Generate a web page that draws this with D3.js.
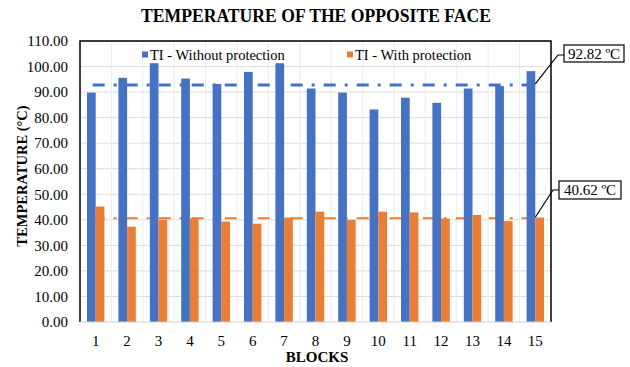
<!DOCTYPE html>
<html><head><meta charset="utf-8">
<script src="https://cdn.jsdelivr.net/npm/d3@7/dist/d3.min.js"></script>
<style>body{margin:0;background:#fff}svg{display:block;font-family:"Liberation Serif","Times New Roman",serif}</style>
</head><body><svg id="c" width="630" height="367"></svg>
<script>
const categories = ["1","2","3","4","5","6","7","8","9","10","11","12","13","14","15"];
const seriesNames = ["TI - Without protection","TI - With protection"];
const withoutProtection = [89.8,95.6,101.3,95.3,93.2,97.9,101.3,91.4,89.8,83.2,87.8,85.8,91.4,92.4,98.2];
const withProtection = [45.2,37.3,40.0,40.6,39.3,38.5,40.9,43.2,40.0,43.2,42.9,40.5,41.9,39.5,40.9];
const averages = [92.82, 40.62];
const averageLabels = ["92.82 ºC","40.62 ºC"];
const yTicks = [0,10,20,30,40,50,60,70,80,90,100,110];
const colors = ["#4472C4","#ED7D31"];

const svg = d3.select("#c");
const L=80, R=551, T=41, B=322;
const x = d3.scaleBand().domain(categories).range([L,R]).paddingInner(0.446).paddingOuter(0.223);
const xs = d3.scaleBand().domain([0,1]).range([0,x.bandwidth()]);
const y = d3.scaleLinear().domain([0,110]).range([B,T]);
const step = x.step();

// gridlines
svg.append("g").selectAll("line").data(yTicks.slice(1)).join("line")
  .attr("x1",L).attr("x2",R).attr("y1",d=>y(d)).attr("y2",d=>y(d))
  .attr("stroke","#dcdcdc").attr("stroke-width",1);
svg.append("g").selectAll("line").data(categories.slice(1)).join("line")
  .attr("x1",d=>x(d)-x.paddingInner()*step/2).attr("x2",d=>x(d)-x.paddingInner()*step/2)
  .attr("y1",T).attr("y2",B).attr("stroke","#ececec").attr("stroke-width",1);

// average lines (behind bars)
const cx = d=>x(d)+x.bandwidth()/2;
const firstC = categories[0], lastC = categories[categories.length-1];
svg.append("line").attr("x1",cx(firstC)-3).attr("x2",cx(lastC)).attr("y1",y(averages[0])).attr("y2",y(averages[0]))
  .attr("stroke",colors[0]).attr("stroke-width",3).attr("stroke-dasharray","12,9,3,9");
svg.append("line").attr("x1",cx(firstC)-3).attr("x2",cx(lastC)).attr("y1",y(averages[1])).attr("y2",y(averages[1]))
  .attr("stroke",colors[1]).attr("stroke-width",2.2).attr("stroke-dasharray","12,9,3,9");

// bars
[withoutProtection, withProtection].forEach((vals,si)=>{
  svg.append("g").selectAll("rect").data(vals).join("rect")
    .attr("x",(d,i)=>x(categories[i])+xs(si)).attr("width",xs.bandwidth())
    .attr("y",d=>y(d)).attr("height",d=>B-y(d)).attr("fill",colors[si]);
});

// frame
svg.append("path").attr("d",`M${L},${B}V${T}H${R}V${B}`).attr("fill","none").attr("stroke","#000").attr("stroke-width",1.5);
svg.append("line").attr("x1",L).attr("x2",R).attr("y1",B).attr("y2",B).attr("stroke","#d0d0d0").attr("stroke-width",1);

// y axis labels
const yAxis = d3.axisLeft(y).tickValues(yTicks).tickFormat(d3.format(".2f")).tickSize(0).tickPadding(12);
const ga = svg.append("g").attr("transform",`translate(${L},0)`).call(yAxis);
ga.select(".domain").remove();
ga.selectAll("text").attr("font-size","15px").attr("fill","#000").attr("font-family","Liberation Serif");

// x axis labels
const xAxis = d3.axisBottom(x).tickSize(0).tickPadding(13);
const gx = svg.append("g").attr("transform",`translate(0,${B})`).call(xAxis);
gx.select(".domain").remove();
gx.selectAll("text").attr("font-size","15px").attr("fill","#000").attr("font-family","Liberation Serif");

// titles
svg.append("text").attr("x",316).attr("y",22).attr("text-anchor","middle").attr("font-weight","bold")
  .attr("font-size","18px").attr("textLength",350).attr("lengthAdjust","spacingAndGlyphs").text("TEMPERATURE OF THE OPPOSITE FACE");
svg.append("text").attr("x",317).attr("y",362).attr("text-anchor","middle").attr("font-weight","bold")
  .attr("font-size","15px").text("BLOCKS");
svg.append("text").attr("transform","translate(27,176) rotate(-90)").attr("text-anchor","middle").attr("font-weight","bold")
  .attr("font-size","14.5px").text("TEMPERATURE (°C)");

// legend
const legX = [142,347];
seriesNames.forEach((n,i)=>{
  svg.append("rect").attr("x",legX[i]).attr("y",51.5).attr("width",6).attr("height",6).attr("fill",colors[i]);
  svg.append("text").attr("x",legX[i]+8).attr("y",59.5).attr("font-size","14.5px").text(n);
});

// callouts
const boxes = [{x:564,y:45,w:60,h:17,ly:55},{x:559,y:181,w:62,h:18,ly:190}];
averages.forEach((a,i)=>{
  const b = boxes[i];
  const px = cx(lastC);
  svg.append("path").attr("d",`M${b.x},${b.ly}H${b.x-6}L${px},${y(a)-1}`).attr("fill","none").attr("stroke","#000").attr("stroke-width",1.2);
  svg.append("rect").attr("x",b.x).attr("y",b.y).attr("width",b.w).attr("height",b.h).attr("fill","#fff").attr("stroke","#000").attr("stroke-width",1.2);
  svg.append("text").attr("x",b.x+b.w/2).attr("y",b.y+b.h/2+5).attr("text-anchor","middle").attr("font-size","15px").text(averageLabels[i]);
});
</script></body></html>
